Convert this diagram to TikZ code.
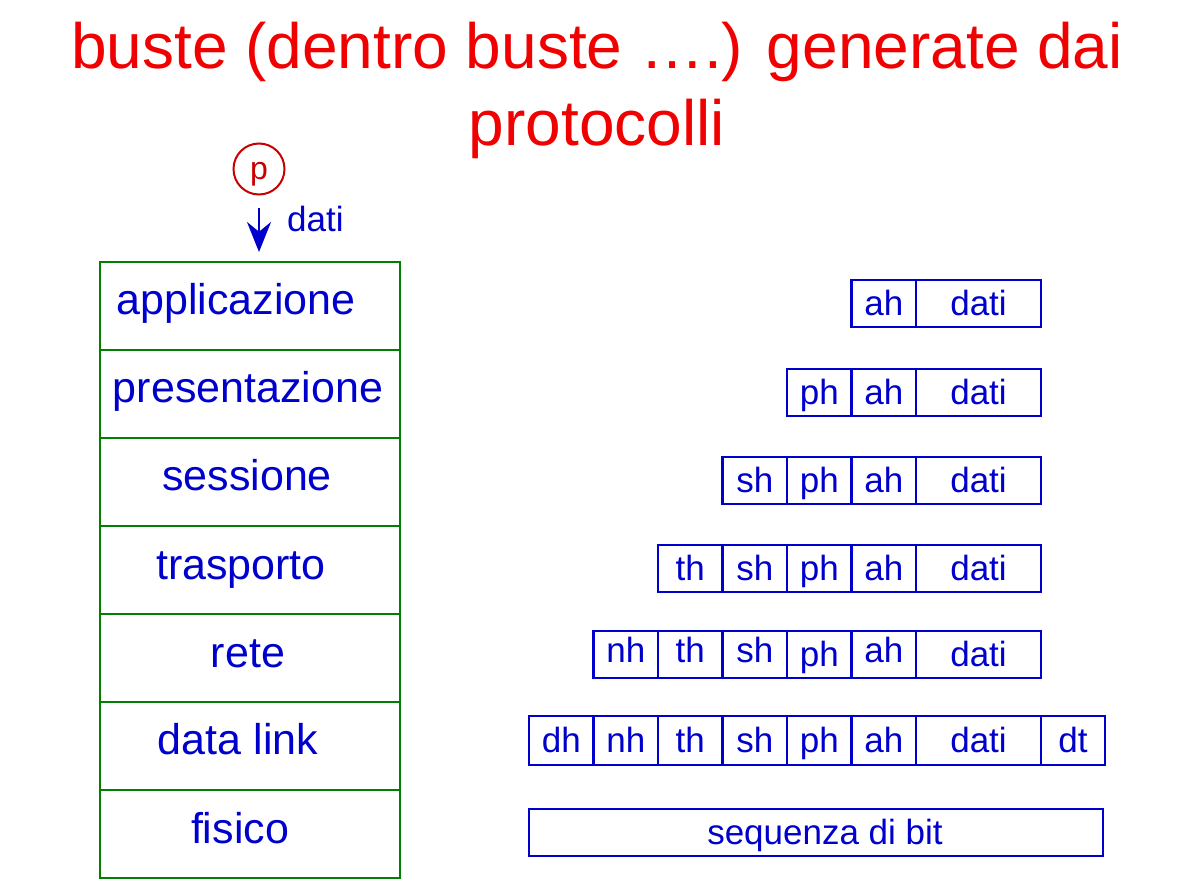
\documentclass[tikz,border=0pt]{standalone}
\usepackage{fontspec}
\setmainfont{Liberation Sans}
\usetikzlibrary{arrows.meta}
\definecolor{titlered}{RGB}{240,0,0}
\definecolor{pred}{RGB}{200,0,0}
\definecolor{txtblue}{RGB}{0,0,204}
\definecolor{layergreen}{RGB}{0,128,0}
\begin{document}
\begin{tikzpicture}[x=1pt,y=-1pt,
  title/.style={anchor=base, text=titlered, font=\fontsize{64}{70}\selectfont, inner sep=0pt},
  layerbox/.style={draw=layergreen, line width=2pt, minimum width=300pt, minimum height=88pt, inner sep=0pt, outer sep=0pt},
  layertext/.style={anchor=base, text=txtblue, font=\fontsize{43}{48}\selectfont, inner sep=0pt},
  cell/.style={draw=txtblue, line width=2.4pt, minimum width=64.5pt, minimum height=47pt,
    inner sep=0pt, outer sep=0pt, text=txtblue, font=\fontsize{35}{40}\selectfont,
    text height=26pt, text depth=3pt},
  raised/.style={text height=22pt, text depth=7pt},
  datacell/.style={cell, minimum width=125pt},
]
\useasboundingbox (0,0) rectangle (1177,891);

% title
\node[title] (t1) at (597,69) {buste (dentro buste ….) generate dai};
\node[title] (t2) at (597,145) {protocolli};

% protocol stack
\node[layerbox] (app)  at (250,306) {};
\node[layerbox] (pres) at (250,394) {};
\node[layerbox] (sess) at (250,482) {};
\node[layerbox] (tras) at (250,570) {};
\node[layerbox] (rete) at (250,658) {};
\node[layerbox] (dl)   at (250,746) {};
\node[layerbox] (fis)  at (250,834) {};

\node[layertext] (lapp)  at (236,314) {applicazione};
\node[layertext] (lpres) at (248,402) {presentazione};
\node[layertext] (lsess) at (247,490) {sessione};
\node[layertext] (ltras) at (241,579) {trasporto};
\node[layertext] (lrete) at (248,667) {rete};
\node[layertext] (ldl)   at (238,754) {data link};
\node[layertext] (lfis)  at (240,843) {fisico};

% user process and data handed to the application layer
\node[draw=pred, line width=2pt, circle, minimum size=51pt, inner sep=0pt] (proc) at (259,169) {};
\node[anchor=base, text=pred, font=\fontsize{32}{36}\selectfont, inner sep=0pt] (plbl) at (259,179) {p};
\draw[txtblue, line width=2.6pt, -{Stealth[length=30pt,width=24pt]}, shorten <=12pt, shorten >=10pt]
  (proc.center |- proc.south) -- (proc.center |- app.north);
\node[anchor=base west, text=txtblue, font=\fontsize{35}{40}\selectfont, inner sep=0pt] (dlbl) at (287,231) {dati};

% application
\node[cell] (a1ah) at (883.75,303.5) {ah};
\node[datacell] (a1d) at (978.5,303.5) {dati};

% presentation
\node[cell] (a2ph) at (819.25,392.5) {ph};
\node[cell] (a2ah) at (883.75,392.5) {ah};
\node[datacell] (a2d) at (978.5,392.5) {dati};

% session
\node[cell] (a3sh) at (754.75,480.5) {sh};
\node[cell] (a3ph) at (819.25,480.5) {ph};
\node[cell] (a3ah) at (883.75,480.5) {ah};
\node[datacell] (a3d) at (978.5,480.5) {dati};

% transport
\node[cell] (a4th) at (690.25,568.5) {th};
\node[cell] (a4sh) at (754.75,568.5) {sh};
\node[cell] (a4ph) at (819.25,568.5) {ph};
\node[cell] (a4ah) at (883.75,568.5) {ah};
\node[datacell] (a4d) at (978.5,568.5) {dati};

% network
\node[cell, raised] (a5nh) at (625.75,654.5) {nh};
\node[cell, raised] (a5th) at (690.25,654.5) {th};
\node[cell, raised] (a5sh) at (754.75,654.5) {sh};
\node[cell] (a5ph) at (819.25,654.5) {ph};
\node[cell, raised] (a5ah) at (883.75,654.5) {ah};
\node[datacell] (a5d) at (978.5,654.5) {dati};

% data link
\node[cell, minimum height=49pt] (a6dh) at (561.25,740.5) {dh};
\node[cell, minimum height=49pt] (a6nh) at (625.75,740.5) {nh};
\node[cell, minimum height=49pt] (a6th) at (690.25,740.5) {th};
\node[cell, minimum height=49pt] (a6sh) at (754.75,740.5) {sh};
\node[cell, minimum height=49pt] (a6ph) at (819.25,740.5) {ph};
\node[cell, minimum height=49pt] (a6ah) at (883.75,740.5) {ah};
\node[datacell, minimum height=49pt] (a6d) at (978.5,740.5) {dati};
\node[cell, minimum height=49pt] (a6dt) at (1073,740.5) {dt};

% physical: bit stream, label set a little right of centre
\node[cell, minimum width=574pt] (bits) at (816,832.5) {};
\node[anchor=base, text=txtblue, font=\fontsize{35}{40}\selectfont, inner sep=0pt] (bitslbl) at (825,844) {sequenza di bit};
\end{tikzpicture}
\end{document}
